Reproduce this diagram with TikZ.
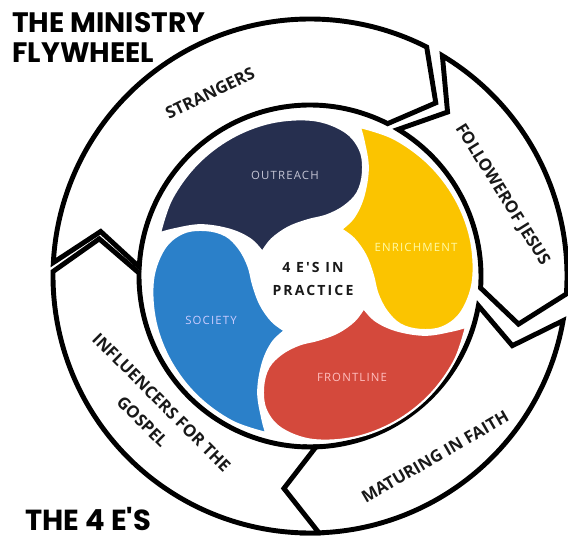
\documentclass[tikz,border=0pt]{standalone}
\usepackage{fontspec}
\setmainfont{Open Sans}
\newfontfamily\titulofont{Poppins}
\newfontfamily\petalofont[LetterSpace=10]{Open Sans}
\newfontfamily\centrofont[LetterSpace=15]{Open Sans}
\usepackage{tikz}

\definecolor{marino}{HTML}{262F4F}
\definecolor{amarillo}{HTML}{FBC400}
\definecolor{rojo}{HTML}{D4493C}
\definecolor{azul}{HTML}{2B80C9}

% tramo del anillo: angulo inicial, angulo final
\newcommand{\tramo}[2]{%
  \draw[anillo, shift={(310,261)}] (#1:257) arc[start angle=#1, end angle=#2, radius=257]
    -- ({#2-9}:214) -- (#2:171) arc[start angle=#2, end angle=#1, radius=171]
    -- ({#1-9}:214) -- cycle;}

% petalo: color, giro
\newcommand{\petalo}[2]{%
  \fill[#1, draw=white, line width=1.2pt, shift={(313,257)}, rotate=#2]
    plot[smooth, tension=0.6] coordinates {(163:160) (150:163) (135:164) (120:164) (105:163)
      (90:160) (78:152) (70:138) (65:118) (63:98) (67:80) (78:66) (95:60) (115:58) (135:58) (151:58)}
    -- plot[smooth, tension=0.6] coordinates {(151:58) (147:75) (149:98) (154:125) (160:148) (163:160)}
    -- cycle;}

\begin{document}
\begin{tikzpicture}[x=0.02cm, y=0.02cm,
    anillo/.style={draw=black, line width=2.8pt, fill=white},
    etiqueta/.style={font=\bfseries\fontsize{9.5}{15.5}\selectfont, text=black!90, inner sep=0pt},
    petalotxt/.style={font=\petalofont\fontsize{6.5}{8}\selectfont, inner sep=0pt},
    titulo/.style={font=\titulofont\bfseries\fontsize{16}{17}\selectfont, inner sep=0pt, anchor=base west}]
  \useasboundingbox (0,0) rectangle (568,537);

  % Anillo
  \tramo{177}{63}
  \tramo{59}{-4}
  \tramo{-10}{-92}
  \tramo{-88}{-181}

  % Petalos
  \petalo{marino}{0}
  \petalo{amarillo}{-90}
  \petalo{rojo}{-180}
  \petalo{azul}{-270}

  % Textos de los petalos
  \node[petalotxt, text=blue!15!gray!40] (outreach) at (285,362) {OUTREACH};
  \node[petalotxt, text=yellow!35] (enrichment) at (416,290) {ENRICHMENT};
  \node[petalotxt, text=blue!20] (society) at (211,217) {SOCIETY};
  \node[petalotxt, text=red!25] (frontline) at (352,160) {FRONTLINE};
  \node[font=\centrofont\bfseries\fontsize{8}{13}\selectfont, align=center, inner sep=0pt, text=black!90] (centro) at (313,258) {4 E'S IN\\PRACTICE};

  % Textos del anillo
  \node[etiqueta, rotate=26] (strangers) at (210,444) {STRANGERS};
  \node[etiqueta, rotate=-58] (follower) at (502,342) {FOLLOWEROF JESUS};
  \node[etiqueta, rotate=30] (maturing) at (435,80) {MATURING IN FAITH};
  \node[etiqueta, rotate=-45, align=center] (influencers) at (152,125) {INFLUENCERS FOR THE\\GOSPEL};

  % Titulos
  \node[titulo] (titulo1) at (12,504) {THE MINISTRY};
  \node[titulo] (titulo2) at (12,474) {FLYWHEEL};
  \node[titulo, font=\titulofont\bfseries\fontsize{16.5}{17}\selectfont] (cuatroes) at (25,6) {THE 4 E'S};
\end{tikzpicture}
\end{document}
